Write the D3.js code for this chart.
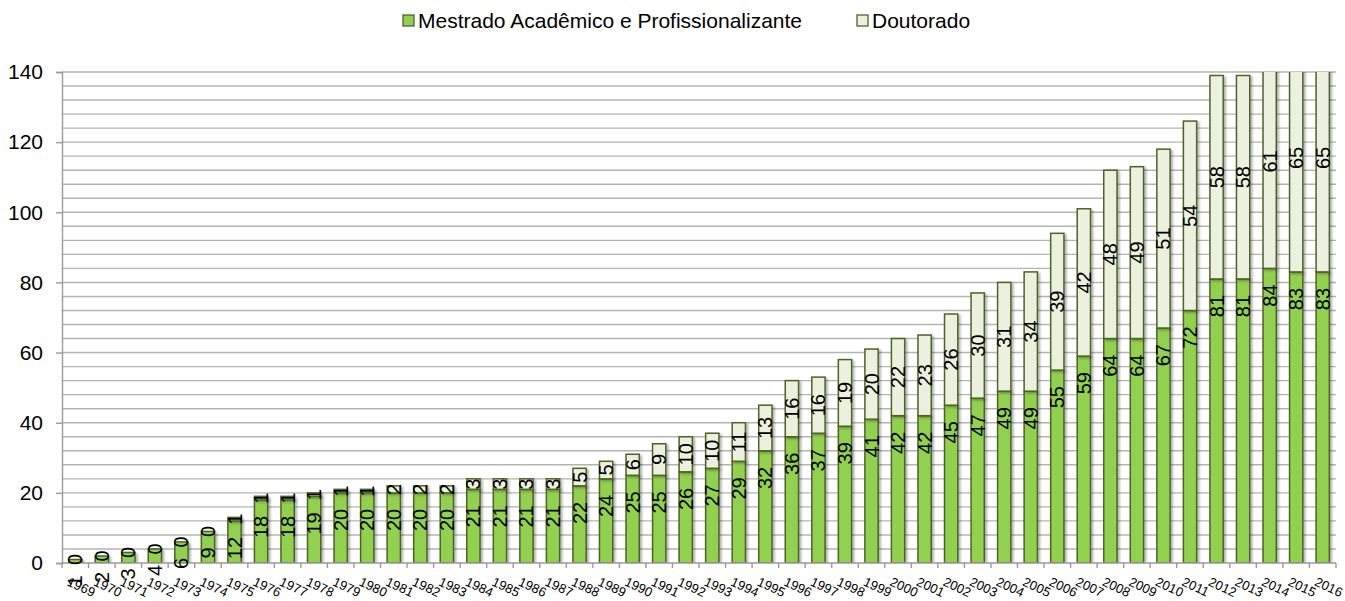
<!DOCTYPE html>
<html>
<head>
<meta charset="utf-8">
<script src="https://cdn.jsdelivr.net/npm/d3@7/dist/d3.min.js"></script>
<style>
  body { margin: 0; background: #fff; }
  svg { display: block; font-family: "Liberation Sans", Arial, sans-serif; }
</style>
</head>
<body>
<svg id="chart" width="1345" height="601"></svg>
<script>
const years = ["1969","1970","1971","1972","1973","1974","1975","1976","1977","1978","1979","1980",
  "1981","1982","1983","1984","1985","1986","1987","1988","1989","1990","1991","1992","1993","1994",
  "1995","1996","1997","1998","1999","2000","2001","2002","2003","2004","2005","2006","2007","2008",
  "2009","2010","2011","2012","2013","2014","2015","2016"];
const mestrado = [1,2,3,4,6,9,12,18,18,19,20,20,20,20,20,21,21,21,21,22,24,25,25,26,27,29,
  32,36,37,39,41,42,42,45,47,49,49,55,59,64,64,67,72,81,81,84,83,83];
const doutorado = [0,0,0,0,0,0,1,1,1,1,1,1,2,2,2,3,3,3,3,5,5,6,9,10,10,11,
  13,16,16,19,20,22,23,26,30,31,34,39,42,48,49,51,54,58,58,61,65,65];
const seriesNames = ["Mestrado Acadêmico e Profissionalizante", "Doutorado"];
const yTicks = [0,20,40,60,80,100,120,140];

const colors = ["#92d050", "#ebf1de"];
const strokeCol = "#4f6228";

const svg = d3.select("#chart");
const margin = {left: 62, right: 9, top: 72, bottom: 38};
const W = 1345, H = 601;
const x0 = margin.left, x1 = W - margin.right, yTop = margin.top, yBot = H - margin.bottom;

const x = d3.scaleBand().domain(years).range([x0, x1]).paddingInner(0.5).paddingOuter(0.25);
const y = d3.scaleLinear().domain([0, 140]).range([yBot, yTop]);

const defs = svg.append("defs");
defs.append("clipPath").attr("id", "plotClip")
  .append("rect").attr("x", x0).attr("y", yTop).attr("width", x1 - x0).attr("height", yBot - yTop);
const f = defs.append("filter").attr("id", "shadow").attr("x", "-50%").attr("y", "-10%").attr("width", "200%").attr("height", "120%");
f.append("feDropShadow").attr("dx", 2).attr("dy", 1.5).attr("stdDeviation", 1.3).attr("flood-color", "#000").attr("flood-opacity", 0.3);

// gridlines every 4
const gridVals = d3.range(4, 141, 4);
svg.append("g").selectAll("line").data(gridVals).join("line")
  .attr("x1", x0).attr("x2", x1)
  .attr("y1", d => y(d)).attr("y2", d => y(d))
  .attr("stroke", "#b4b4b4").attr("stroke-width", 1.4);

// y axis
const yAxis = d3.axisLeft(y).tickValues(yTicks).tickSize(6).tickPadding(13);
const gy = svg.append("g").attr("transform", `translate(${x0},0)`).call(yAxis);
gy.select(".domain").attr("stroke", "#9a9a9a").attr("stroke-width", 1.4);
gy.selectAll(".tick line").attr("stroke", "#9a9a9a").attr("stroke-width", 1.4);
gy.selectAll(".tick text").attr("font-size", 21).attr("fill", "#000")
  .attr("font-family", "Liberation Sans, Arial, sans-serif");

// stacked data
const table = years.map((yr, i) => ({year: yr, m: mestrado[i], d: doutorado[i]}));
const stack = d3.stack().keys(["m", "d"]);
const stacked = stack(table);

const plot = svg.append("g").attr("clip-path", "url(#plotClip)");
stacked.forEach((layer, li) => {
  plot.append("g").attr("filter", "url(#shadow)").selectAll("rect").data(layer).join("rect")
    .attr("x", d => x(d.data.year))
    .attr("width", x.bandwidth())
    .attr("y", d => y(d[1]))
    .attr("height", d => Math.max(0, y(d[0]) - y(d[1])))
    .attr("fill", colors[li])
    .attr("stroke", strokeCol).attr("stroke-width", 1.5);
});

// x axis
const gx = svg.append("g").attr("transform", `translate(0,${yBot})`);
gx.append("line").attr("x1", x0).attr("x2", x1).attr("stroke", "#9a9a9a").attr("stroke-width", 1.4);
const boundaries = d3.range(years.length + 1).map(i => x0 + (x1 - x0) * i / years.length);
gx.selectAll("line.tk").data(boundaries).join("line").attr("class", "tk")
  .attr("x1", d => d).attr("x2", d => d).attr("y1", 0).attr("y2", 5)
  .attr("stroke", "#9a9a9a").attr("stroke-width", 1.4);

svg.append("g").selectAll("text").data(years).join("text")
  .attr("transform", d => `translate(${x(d) + x.bandwidth() / 2 - 9},${yBot + 22}) rotate(25)`)
  .attr("font-size", 13).attr("fill", "#000")
  .text(d => d);

// data labels: mestrado near inside end, doutorado centered
svg.append("g").selectAll("text").data(stacked[0]).join("text")
  .attr("transform", d => `translate(${x(d.data.year) + x.bandwidth() / 2},${y(d[1]) + 16}) rotate(-90)`)
  .attr("text-anchor", "end").attr("dy", "0.35em")
  .attr("font-size", 20).attr("fill", "#000")
  .text(d => d.data.m);

svg.append("g").selectAll("text").data(stacked[1]).join("text")
  .attr("transform", d => `translate(${x(d.data.year) + x.bandwidth() / 2},${(y(d[0]) + y(d[1])) / 2}) rotate(-90)`)
  .attr("text-anchor", "middle").attr("dy", "0.35em")
  .attr("font-size", 20).attr("fill", "#000")
  .text(d => d.data.d);

// legend
const legendItems = [
  {name: seriesNames[0], color: colors[0], x: 403},
  {name: seriesNames[1], color: colors[1], x: 857}
];
const lg = svg.append("g");
legendItems.forEach(it => {
  lg.append("rect").attr("x", it.x).attr("y", 15).attr("width", 11).attr("height", 11)
    .attr("fill", it.color).attr("stroke", strokeCol).attr("stroke-width", 1.3);
  lg.append("text").attr("x", it.x + 15).attr("y", 28).attr("font-size", 21).attr("fill", "#000").text(it.name);
});
</script>
</body>
</html>
